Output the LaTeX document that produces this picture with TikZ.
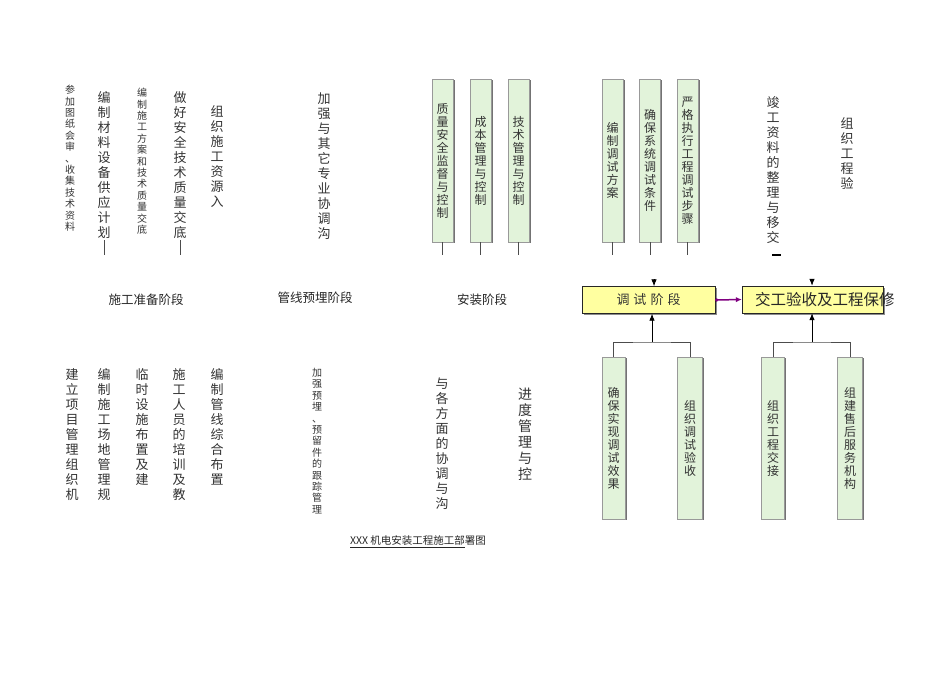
\documentclass[tikz,border=0pt]{standalone}
\usepackage{fontspec}
\setmainfont{Noto Sans CJK SC}
\XeTeXlinebreaklocale "zh"
\XeTeXlinebreakskip=0pt plus 1pt
\definecolor{boxgreen}{RGB}{226,243,218}
\definecolor{boxyellow}{RGB}{255,255,160}
\definecolor{linkpurple}{RGB}{128,0,128}
\usetikzlibrary{positioning, arrows.meta, shadows}

\begin{document}
\begin{tikzpicture}[x=1pt, y=-1pt,
        vtext/.style={anchor=north, inner sep=0pt, text width=14pt, align=center, text=black!80, font=\fontsize{13}{15}\selectfont},
        vsmall/.style={vtext, text width=11pt, font=\fontsize{10}{11.4}\selectfont},
        stage/.style={inner sep=0pt, text=black!85, font=\fontsize{12.5}{14}\selectfont},
        gbox/.style={rectangle, draw=black!40, fill=boxgreen, minimum width=21pt, minimum height=163pt, inner sep=0pt, text width=13pt, align=center, text=black!80, font=\fontsize{12}{13}\selectfont, drop shadow={shadow xshift=1.5pt, shadow yshift=-1pt, fill=black!55, opacity=1}},
        ybox/.style={rectangle, draw=black!85, fill=boxyellow, minimum height=27pt, inner sep=0pt, text=black!80, font=\fontsize{13}{15}\selectfont, drop shadow={shadow xshift=1.5pt, shadow yshift=-1.5pt, fill=black!45, opacity=1}},
        stub/.style={draw=black!70, line width=0.9pt},
        arr/.style={draw=black, line width=0.8pt, -{Latex[length=7pt, width=5.5pt]}},
        link/.style={draw=linkpurple, line width=1.5pt, {Circle[length=3pt]}-{Latex[length=6pt, width=5.5pt]}}
    ]
        \useasboundingbox (0,0) rectangle (950,672);

        % top row
        \node[vsmall] (REVIEW) at (70,85) {参加图纸会审\\、\\收集技术资料};
        \node[vtext] (MATPLAN) at (104,91) {编制材料设备供应计划};
        \node[vsmall] (SCHEME) at (142,88) {编制施工方案和技术质量交底};
        \node[vtext] (SAFETY) at (180,91) {做好安全技术质量交底};
        \node[vtext] (RESOURCE) at (217,105) {组织施工资源入};
        \node[vtext] (COORD) at (324,93) {加强与其它专业协调沟};
        \node[vtext] (HANDOVER) at (773,96) {竣工资料的整理与移交};
        \node[vtext] (ACCEPT) at (847,117) {组织工程验};

        \node[gbox] (QUALITY) at (442.5,160.5) {质量安全监督与控制};
        \node[gbox] (COST) at (480.5,160.5) {成本管理与控制};
        \node[gbox] (TECH) at (518.5,160.5) {技术管理与控制};
        \node[gbox] (DPLAN) at (612.5,160.5) {编制调试方案};
        \node[gbox] (DCOND) at (650,160.5) {确保系统调试条件};
        \node[gbox] (DSTEP) at (687.5,160.5) {严格执行工程调试步骤};

        \draw[stub] ([yshift=-2pt]MATPLAN.south) -- ++(0,15);
        \draw[stub] ([yshift=-2pt]SAFETY.south) -- ++(0,15);
        \foreach \n in {QUALITY, COST, TECH, DPLAN, DCOND, DSTEP}
            \draw[stub] (\n.south) -- ++(0,13);
        \draw[line width=1.5pt] (772,255) -- (781,255);

        % stages
        \node[stage] (PREP) at (146,300) {施工准备阶段};
        \node[stage] (BURY) at (315,298) {管线预埋阶段};
        \node[stage] (INSTALL) at (482,300) {安装阶段};
        \node[ybox, minimum width=133pt] (TEST) at (648.5,300) {调\hspace{4pt}试\hspace{4pt}阶\hspace{4pt}段};
        \node[ybox, minimum width=141pt] (FINAL) at (812.5,299.5) {};
        \node[right=13pt of FINAL.west, inner sep=0pt, text=black!85, font=\fontsize{15.5}{17}\selectfont] (FINALTXT) {交工验收及工程保修};

        \coordinate (TESTIN) at (654,279);
        \coordinate (FINALIN) at (812,279);
        \draw[arr] (TESTIN) -- (TESTIN |- TEST.north);
        \draw[arr] (FINALIN) -- (FINALIN |- FINAL.north);
        \draw[link] (TEST.east) -- (FINAL.west);

        % bottom row
        \node[vtext] (ORG) at (72,368) {建立项目管理组织机};
        \node[vtext] (SITE) at (104,368) {编制施工场地管理规};
        \node[vtext] (TEMP) at (142,368) {临时设施布置及建};
        \node[vtext] (TRAIN) at (179,368) {施工人员的培训及教};
        \node[vtext] (PIPE) at (217,368) {编制管线综合布置};
        \node[vsmall] (EMBED) at (317,368) {加强预埋\\、\\预留件的跟踪管理};
        \node[vtext] (PARTIES) at (442,378) {与各方面的协调与沟};
        \node[vtext, text width=15pt, font=\fontsize{14}{16}\selectfont] (PROGRESS) at (525,388) {进度管理与控};

        \node[gbox, minimum width=23pt, minimum height=162pt] (EFFECT) at (613.5,438) {确保实现调试效果};
        \node[gbox, minimum width=25pt, minimum height=162pt] (CHECK) at (690,438) {组织调试验收};
        \node[gbox, minimum width=23pt, minimum height=162pt] (TRANSFER) at (773,438) {组织工程交接};
        \node[gbox, minimum width=25pt, minimum height=162pt] (SERVICE) at (850,438) {组建售后服务机构};

        \coordinate (TESTFORK) at (652,342);
        \coordinate (FINALFORK) at (812,342);
        \draw[arr] (TESTFORK) -- (TESTFORK |- TEST.south);
        \draw[arr] (FINALFORK) -- (FINALFORK |- FINAL.south);
        \draw[stub] (EFFECT.north) |- (TESTFORK) -| (CHECK.north);
        \draw[stub] (TRANSFER.north) |- (FINALFORK) -| (SERVICE.north);

        \node[font=\fontsize{10.5}{12}\selectfont, text=black!85] (TITLE) at (418,542) {\underline{XXX 机电安装工程施工部}署图};
    \end{tikzpicture}
\end{document}
